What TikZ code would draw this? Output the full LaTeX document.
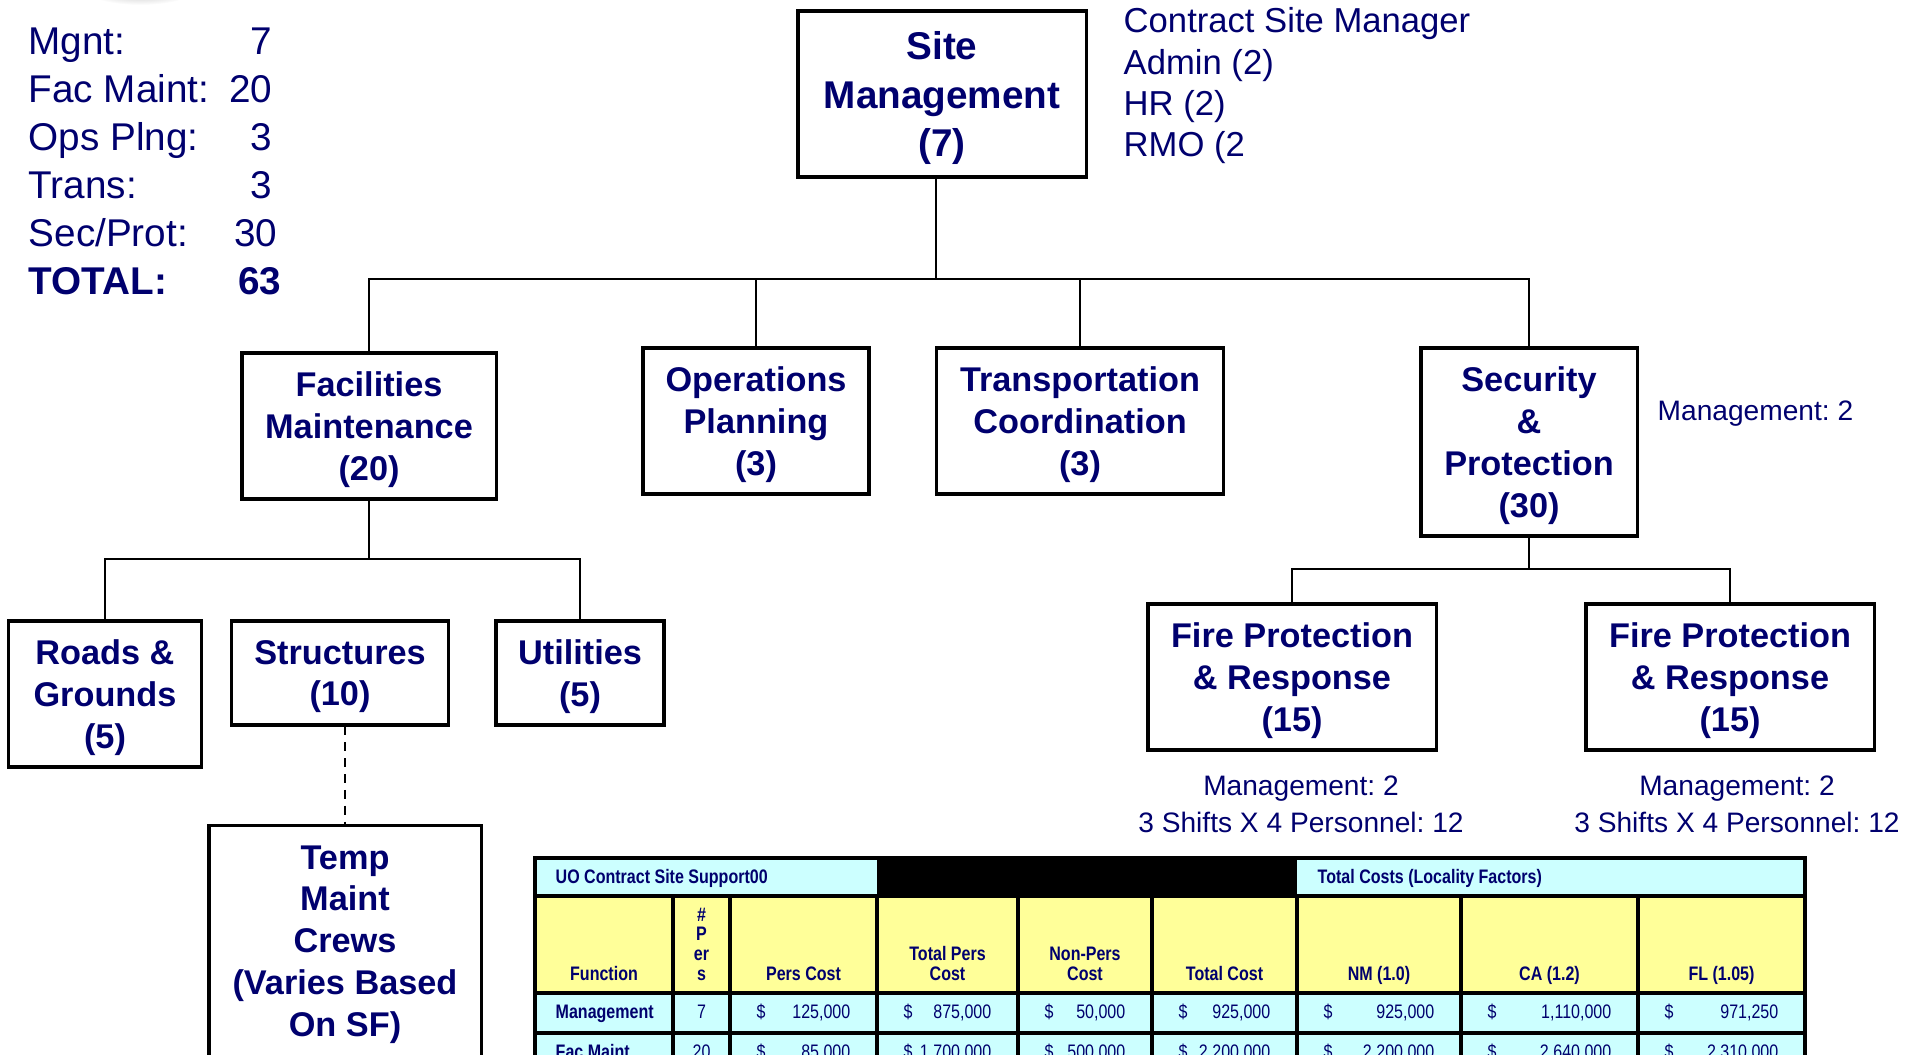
\documentclass[tikz,border=0pt]{standalone}
\usepackage{fontspec}
\setmainfont{Liberation Sans}
\newfontfamily\tabfont{Liberation Sans}[FakeStretch=0.82]
\usepackage{xcolor}
\usepackage{graphicx}

\definecolor{orgnavy}{RGB}{0,0,110}
\definecolor{cellcyan}{RGB}{204,255,255}
\definecolor{cellyellow}{RGB}{255,255,153}

% one money cell: name, left x, right x, baseline y, value
\newcommand{\costcell}[5]{%
  \node[tabnum, anchor=base west] (#1d) at (#2+26,#4) {\$};
  \node[tabnum, anchor=base east] (#1v) at (#3-26,#4) {#5};}

\begin{document}
\frenchspacing
\begin{tikzpicture}[x=0.01cm, y=-0.01cm,
    orgbox/.style={draw, line width=0.9pt, inner sep=0pt, align=center, text=orgnavy,
        text depth=0pt, font=\bfseries\fontsize{9.75}{11.9}\selectfont},
    conn/.style={line width=0.6pt},
    tally/.style={inner sep=0pt, text=orgnavy, font=\fontsize{11}{13}\selectfont},
    note/.style={inner sep=0pt, text=orgnavy, font=\fontsize{9.85}{11.8}\selectfont},
    crew/.style={inner sep=0pt, text=orgnavy, font=\fontsize{8}{10}\selectfont, anchor=base},
    tabhead/.style={inner sep=0pt, text=orgnavy, anchor=base,
        font=\tabfont\bfseries\fontsize{5.56}{6.5}\selectfont},
    tabnum/.style={inner sep=0pt, text=orgnavy, font=\tabfont\fontsize{5.56}{6.5}\selectfont},
    tabrule/.style={line width=1pt}]

    \useasboundingbox (0,0) rectangle (1928,1055);
    \clip (0,0) rectangle (1928,1055);

    % Shadow at the top edge
    \shade[inner color=gray!65, outer color=white] (140,-14) ellipse (60 and 19);

    % Head count
    \node[tally, anchor=base west] (mgnt) at (28,55) {Mgnt:};
    \node[tally, anchor=base east] (mgntn) at (273,55) {7};
    \node[tally, anchor=base west] (fac) at (28,103) {Fac Maint:};
    \node[tally, anchor=base east] (facn) at (273,103) {20};
    \node[tally, anchor=base west] (ops) at (28,151) {Ops Plng:};
    \node[tally, anchor=base east] (opsn) at (273,151) {3};
    \node[tally, anchor=base west] (trans) at (28,199) {Trans:};
    \node[tally, anchor=base east] (transn) at (273,199) {3};
    \node[tally, anchor=base west] (sec) at (28,247) {Sec/Prot:};
    \node[tally, anchor=base east] (secn) at (278,247) {30};
    \node[tally, anchor=base west, font=\bfseries\fontsize{11}{13}\selectfont] (total) at (28,295) {TOTAL:};
    \node[tally, anchor=base east, font=\bfseries\fontsize{11}{13}\selectfont] (totaln) at (282,295) {63};

    % Site management
    \node[orgbox, minimum width=2.88cm, minimum height=1.66cm,
        font=\bfseries\fontsize{11}{13.8}\selectfont] (site) at (942,94) {Site\\Management\\(7)};
    \node[note, anchor=base west] (csm) at (1123,33) {Contract Site Manager};
    \node[note, anchor=base west] (admin) at (1123,75) {Admin (2)};
    \node[note, anchor=base west] (hr) at (1123,116) {HR (2)};
    \node[note, anchor=base west] (rmo) at (1123,157) {RMO (2};

    % Functions
    \node[orgbox, minimum width=2.54cm, minimum height=1.46cm] (facmaint) at (369,426) {Facilities\\Maintenance\\(20)};
    \node[orgbox, minimum width=2.26cm, minimum height=1.46cm] (opsplng) at (756,421) {Operations\\Planning\\(3)};
    \node[orgbox, minimum width=2.87cm, minimum height=1.46cm] (transco) at (1080,421) {Transportation\\Coordination\\(3)};
    \node[orgbox, minimum width=2.16cm, minimum height=1.88cm] (secprot) at (1529,442) {Security\\\&\\Protection\\(30)};
    \node[crew, anchor=base west] (secmgmt) at (1657,420) {Management: 2};

    % Facilities maintenance crews
    \node[orgbox, minimum width=1.93cm, minimum height=1.46cm] (roads) at (105,694) {Roads \&\\Grounds\\(5)};
    \node[orgbox, minimum width=2.17cm, minimum height=1.04cm] (struct) at (340,673) {Structures\\(10)};
    \node[orgbox, minimum width=1.68cm, minimum height=1.04cm] (util) at (580,673) {Utilities\\(5)};
    \node[orgbox, minimum width=2.72cm, minimum height=2.31cm] (tempcrew) at (345,941) {Temp\\Maint\\Crews\\(Varies Based\\On SF)};

    % Fire protection
    \node[orgbox, minimum width=2.88cm, minimum height=1.46cm] (fire1) at (1292,677) {Fire Protection\\\& Response\\(15)};
    \node[orgbox, minimum width=2.88cm, minimum height=1.46cm] (fire2) at (1730,677) {Fire Protection\\\& Response\\(15)};
    \node[crew] (fire1mg) at (1301,795) {Management: 2};
    \node[crew] (fire1sh) at (1301,832) {3 Shifts X 4 Personnel: 12};
    \node[crew] (fire2mg) at (1737,795) {Management: 2};
    \node[crew] (fire2sh) at (1737,832) {3 Shifts X 4 Personnel: 12};

    % Connectors
    \coordinate (topbus) at (936,279);
    \draw[conn] (site.south -| topbus) -- (topbus);
    \draw[conn] (facmaint.north) |- (topbus) -| (secprot.north);
    \draw[conn] (opsplng.north) -- (opsplng.north |- topbus);
    \draw[conn] (transco.north) -- (transco.north |- topbus);

    \coordinate (fmbus) at (364,559);
    \draw[conn] (facmaint.south) -- (facmaint.south |- fmbus);
    \draw[conn] (roads.north) |- (fmbus) -| (util.north);
    \draw[conn, dash pattern=on 2.5pt off 2pt] (tempcrew.north |- struct.south) -- (tempcrew.north);

    \coordinate (spbus) at (1522,569);
    \draw[conn] (secprot.south) -- (secprot.south |- spbus);
    \draw[conn] (fire1.north) |- (spbus) -| (fire2.north);

    % Cost table
    \fill[cellcyan] (535,858) rectangle (877,896);
    \fill[black] (877,858) rectangle (1297,896);
    \fill[cellcyan] (1297,858) rectangle (1805,896);
    \fill[cellyellow] (535,896) rectangle (1805,993);
    \fill[cellcyan] (535,993) rectangle (1805,1080);
    \draw[tabrule] (535,1080) -- (535,858) -- (1805,858) -- (1805,1080);
    \foreach \y in {896,993,1033}
        \draw[tabrule] (535,\y) -- (1805,\y);
    \foreach \x in {673,730,877,1018,1152,1297,1461,1638}
        \draw[tabrule] (\x,896) -- (\x,1080);

    \node[tabhead, anchor=base west] (tabtitle) at (555,883) {UO Contract Site Support00};
    \node[tabhead, anchor=base west] (tablocal) at (1317,883) {Total Costs (Locality Factors)};
    \node[tabhead] (hfunc) at (604,980) {Function};
    \node[tabhead] (hpers1) at (701.5,921) {\#};
    \node[tabhead] (hpers2) at (701.5,940) {P};
    \node[tabhead] (hpers3) at (701.5,960) {er};
    \node[tabhead] (hpers4) at (701.5,980) {s};
    \node[tabhead] (hcost) at (803.5,980) {Pers Cost};
    \node[tabhead] (htot1) at (947.5,960) {Total Pers};
    \node[tabhead] (htot2) at (947.5,980) {Cost};
    \node[tabhead] (hnon1) at (1085,960) {Non-Pers};
    \node[tabhead] (hnon2) at (1085,980) {Cost};
    \node[tabhead] (htotal) at (1224.5,980) {Total Cost};
    \node[tabhead] (hnm) at (1379,980) {NM (1.0)};
    \node[tabhead] (hca) at (1549.5,980) {CA (1.2)};
    \node[tabhead] (hfl) at (1721.5,980) {FL (1.05)};

    \node[tabhead, anchor=base west] (rmgmt) at (555,1018) {Management};
    \node[tabnum, anchor=base] (rmgmtn) at (701.5,1018) {7};
    \costcell{mpc}{730}{877}{1018}{125,000}
    \costcell{mtp}{877}{1018}{1018}{875,000}
    \costcell{mnp}{1018}{1152}{1018}{50,000}
    \costcell{mtc}{1152}{1297}{1018}{925,000}
    \costcell{mnm}{1297}{1461}{1018}{925,000}
    \costcell{mca}{1461}{1638}{1018}{1,110,000}
    \costcell{mfl}{1638}{1805}{1018}{971,250}

    \node[tabhead, anchor=base west] (rfac) at (555,1058) {Fac Maint};
    \node[tabnum, anchor=base] (rfacn) at (701.5,1058) {20};
    \costcell{fpc}{730}{877}{1058}{85,000}
    \costcell{ftp}{877}{1018}{1058}{1,700,000}
    \costcell{fnp}{1018}{1152}{1058}{500,000}
    \costcell{ftc}{1152}{1297}{1058}{2,200,000}
    \costcell{fnm}{1297}{1461}{1058}{2,200,000}
    \costcell{fca}{1461}{1638}{1058}{2,640,000}
    \costcell{ffl}{1638}{1805}{1058}{2,310,000}
\end{tikzpicture}
\end{document}
